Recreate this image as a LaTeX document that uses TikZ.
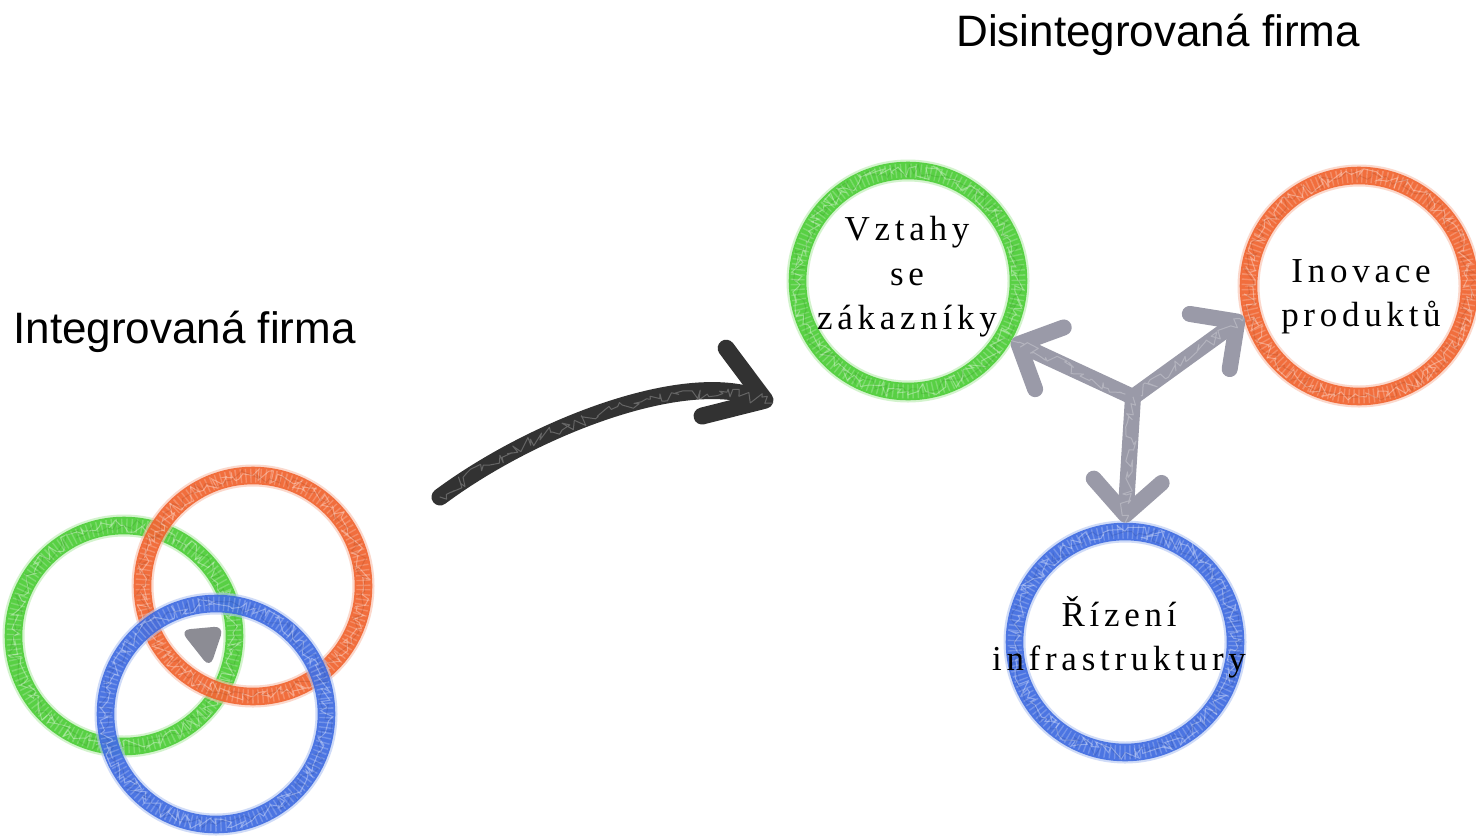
\documentclass[tikz,border=0pt]{standalone}
\usepackage{fontspec}
\setmainfont{Liberation Serif}
\newfontfamily\titlefont{Liberation Sans}
\newfontfamily\ringfont[LetterSpace=13.5]{Liberation Serif}
\usetikzlibrary{arrows.meta,decorations.pathmorphing}
\definecolor{ringgreen}{RGB}{72,204,50}
\definecolor{ringorange}{RGB}{240,96,42}
\definecolor{ringblue}{RGB}{58,104,224}
\definecolor{arrowgray}{RGB}{154,154,168}
\definecolor{blobgray}{RGB}{140,140,148}
\definecolor{pencil}{RGB}{50,50,50}
\begin{document}
\pgfmathsetseed{7}
\begin{tikzpicture}[x=0.5pt,y=-0.5pt,
  % crayon-like ring: soft halo, solid core, hatching and grain on top
  ring/.style={circle, inner sep=0pt, minimum size=110.5pt,
    draw=#1, line width=8.8pt, draw opacity=0.88,
    preaction={draw=#1!40, line width=11pt, draw opacity=0.6},
    postaction={draw=white, draw opacity=0.22, line width=7pt,
      dash pattern=on 0.7pt off 1.8pt},
    postaction={draw=white, draw opacity=0.35, line width=0.5pt, decorate,
      decoration={random steps, segment length=2pt, amplitude=3.4pt}},
    postaction={draw=#1!70!black, draw opacity=0.25, line width=0.5pt, decorate,
      decoration={random steps, segment length=2.5pt, amplitude=3.2pt}}},
  grain/.style={draw=white, draw opacity=0.25, line width=0.5pt, arrows=-, decorate,
      decoration={random steps, segment length=2pt, amplitude=#1}},
  grayarrow/.style={draw=arrowgray, line width=8pt, line cap=round, line join=round,
    -{Straight Barb[round,length=17pt,width=34pt]}},
  pencilarrow/.style={draw=pencil, line width=8.5pt, line cap=round, line join=round,
    -{Straight Barb[round,length=27pt,width=36pt]}},
  title/.style={font=\titlefont\fontsize{22pt}{26pt}\selectfont, inner sep=0pt},
  ringtext/.style={font=\ringfont\fontsize{17.5pt}{22.25pt}\selectfont,
    align=center, inner sep=0pt}
]
\fill[white] (0,0) rectangle (1476,836);
\useasboundingbox (0,0) rectangle (1476,836);

% headings
\node[title, anchor=base west] (tleft) at (13,343) {Integrovaná firma};
\node[title, anchor=base west] (tright) at (956,46) {Disintegrovaná firma};

% integrated firm: three overlapping rings
\node[ring=ringgreen] (lg) at (124,636) {};
\node[ring=ringorange] (lo) at (253,586) {};
\node[ring=ringblue] (lb) at (216,714) {};
\fill[blobgray, rounded corners=5pt] (180,630) -- (224,626) -- (210,668) -- cycle;

% transition arrow
\coordinate (ps) at (440,497);
\coordinate (pe) at (773,403);
\draw[pencilarrow, postaction={grain=3pt}] (ps) .. controls (530,430) and (680,370) .. (pe);

% disintegrated firm: three separate rings
\node[ring=ringgreen] (rg) at (908,281) {};
\node[ring=ringorange] (ro) at (1359,286) {};
\node[ring=ringblue] (rb) at (1125,642) {};

\node[ringtext] (tg) at (907,277) {Vztahy\\se\\zákazníky};
\node[ringtext] (to) at (1361,297) {Inovace\\produktů};
\node[ringtext] (tb) at (1119,637) {Řízení\\infrastruktury};

% links from the hub
\coordinate (hub) at (1133,397);
\draw[grayarrow, postaction={grain=3pt}] (hub) -- (rg.-30);
\draw[grayarrow, postaction={grain=3pt}] (hub) -- (ro.195);
\draw[grayarrow, postaction={grain=3pt}] (hub) -- (rb.north);
\end{tikzpicture}
\end{document}
